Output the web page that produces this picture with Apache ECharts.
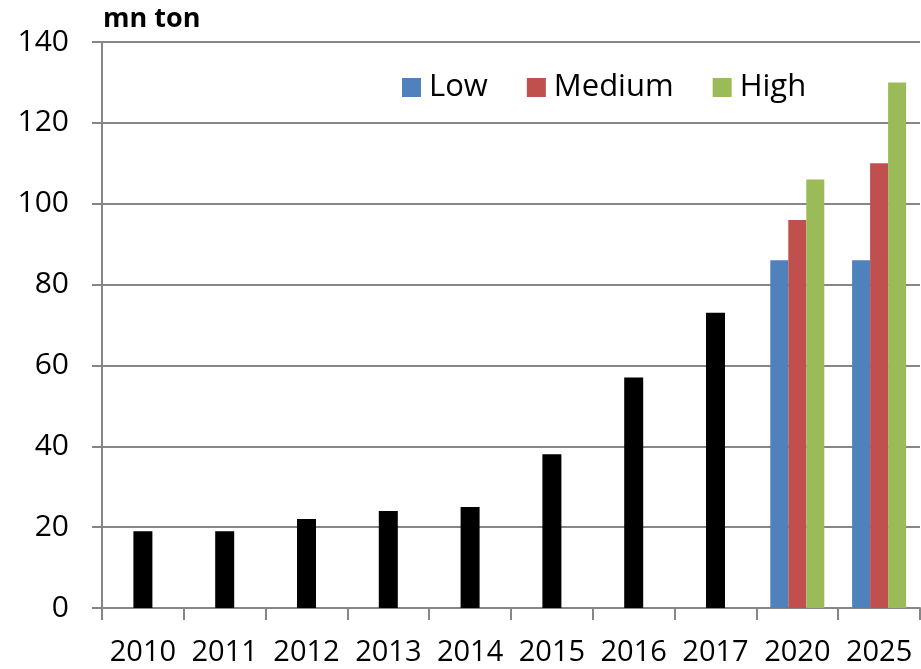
<!DOCTYPE html>
<html>
<head>
<meta charset="utf-8">
<script src="https://cdn.jsdelivr.net/npm/echarts@6/dist/echarts.min.js"></script>
<style>
  html, body { margin: 0; padding: 0; background: #fff; }
  #chart { width: 921px; height: 669px; }
</style>
</head>
<body>
<div id="chart"></div>
<script>
// Years on the horizontal axis
const years = ['2010', '2011', '2012', '2013', '2014', '2015', '2016', '2017', '2020', '2025'];
// Historical volumes (mn ton); projections are empty here
const actual = [19, 19, 22, 24, 25, 38, 57, 73, null, null];
// Projection scenarios for 2020 and 2025 (mn ton)
const low    = [null, null, null, null, null, null, null, null, 86, 86];
const medium = [null, null, null, null, null, null, null, null, 96, 110];
const high   = [null, null, null, null, null, null, null, null, 106, 130];
// Value axis range
const yMin = 0, yMax = 140, yStep = 20;

const FONT = '"Open Sans", "Liberation Sans", sans-serif';
const AXIS_GREY = '#868686';

const chart = echarts.init(document.getElementById('chart'), null, { renderer: 'canvas' });

chart.setOption({
  animation: false,
  backgroundColor: '#ffffff',
  textStyle: { fontFamily: FONT },
  title: {
    text: 'mn ton',
    left: 98,
    top: 1,
    textStyle: { fontFamily: FONT, fontWeight: 'bold', fontSize: 27, color: '#000' }
  },
  legend: {
    data: ['Low', 'Medium', 'High'],
    left: 397,
    top: 67,
    itemWidth: 19,
    itemHeight: 19,
    itemGap: 39,
    icon: 'rect',
    textStyle: { fontFamily: FONT, fontSize: 31, color: '#000', padding: [0, 0, 0, 3] }
  },
  grid: { left: 102, right: 1, top: 42, bottom: 61, containLabel: false },
  xAxis: [
    {
      type: 'category',
      data: years,
      axisLine: { lineStyle: { color: AXIS_GREY, width: 2 } },
      axisTick: { show: true, length: 12, alignWithLabel: false, lineStyle: { color: AXIS_GREY, width: 2 } },
      axisLabel: { fontFamily: FONT, fontSize: 29, color: '#000', margin: 30, interval: 0 }
    },
    {
      // Companion axis so the scenario bars sit side by side within their year
      type: 'category',
      data: years,
      show: false,
      position: 'bottom'
    }
  ],
  yAxis: {
    type: 'value',
    min: yMin,
    max: yMax,
    interval: yStep,
    axisLine: { show: true, lineStyle: { color: AXIS_GREY, width: 2 } },
    axisTick: { show: true, length: 10, lineStyle: { color: AXIS_GREY, width: 2 } },
    axisLabel: { fontFamily: FONT, fontSize: 30, color: '#000', margin: 33 },
    splitLine: { show: true, lineStyle: { color: AXIS_GREY, width: 2 } }
  },
  series: [
    {
      name: 'Actual',
      type: 'bar',
      xAxisIndex: 0,
      data: actual,
      barWidth: 19,
      itemStyle: { color: '#000000' }
    },
    {
      name: 'Low',
      type: 'bar',
      xAxisIndex: 1,
      data: low,
      barWidth: 18,
      barGap: '0%',
      itemStyle: { color: '#4F81BD' }
    },
    {
      name: 'Medium',
      type: 'bar',
      xAxisIndex: 1,
      data: medium,
      barWidth: 18,
      barGap: '0%',
      itemStyle: { color: '#C0504D' }
    },
    {
      name: 'High',
      type: 'bar',
      xAxisIndex: 1,
      data: high,
      barWidth: 18,
      barGap: '0%',
      itemStyle: { color: '#9BBB59' }
    }
  ]
});
</script>
</body>
</html>
